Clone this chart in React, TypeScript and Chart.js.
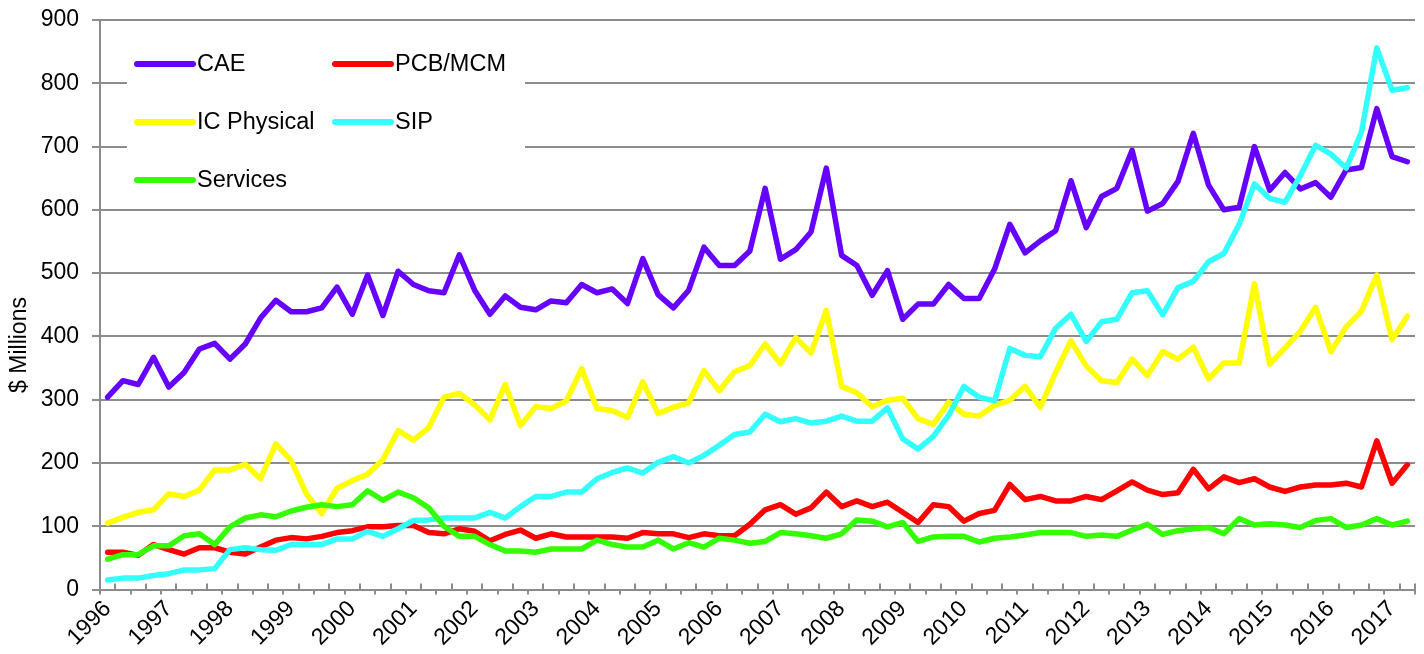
import { useEffect, useRef } from 'react';
import { Chart, registerables } from 'chart.js';

Chart.register(...registerables);

const FONT = "'Liberation Sans', Arial, sans-serif";
const GRID = '#8c8c8c';

const yearLabels = [
  '1996', '1997', '1998', '1999', '2000', '2001', '2002', '2003', '2004', '2005', '2006',
  '2007', '2008', '2009', '2010', '2011', '2012', '2013', '2014', '2015', '2016', '2017',
];
const quarterNames = ['Q1', 'Q2', 'Q3', 'Q4'];
// 1996 Q1 .. 2017 Q2
const categories = yearLabels
  .flatMap((y) => quarterNames.map((q) => `${y} ${q}`))
  .slice(0, 86);

const caeValues = [
  304, 330, 324, 367, 320, 343, 380, 389, 364, 388, 429, 457, 439, 439, 445, 478, 435, 497, 433, 503,
  482, 472, 469, 529, 473, 435, 464, 446, 442, 456, 453, 482, 469, 475, 452, 523, 466, 445, 473, 541,
  512, 512, 535, 634, 522, 537, 565, 666, 528, 512, 465, 504, 427, 451, 451, 482, 460, 460, 506, 577,
  532, 551, 567, 646, 572, 621, 634, 694, 598, 610, 645, 721, 639, 600, 604, 700, 631, 659, 633, 643,
  620, 663, 667, 760, 684, 676,
];
const pcbValues = [
  59, 59, 54, 71, 63, 56, 66, 66, 59, 56, 67, 78, 82, 80, 84, 90, 93, 99, 99, 101,
  101, 90, 88, 96, 92, 77, 87, 94, 81, 88, 83, 83, 83, 83, 81, 90, 88, 88, 82, 88,
  85, 85, 103, 126, 134, 119, 129, 154, 131, 140, 131, 138, 122, 106, 134, 131, 108, 120, 125, 166,
  142, 147, 140, 140, 147, 142, 156, 170, 157, 150, 153, 190, 159, 178, 169, 175, 162, 155, 162, 165,
  165, 168, 162, 235, 168, 197,
];
const icPhysicalValues = [
  105, 114, 122, 126, 151, 147, 157, 189, 189, 198, 175, 230, 204, 151, 120, 160, 172, 182, 205, 251,
  236, 256, 304, 310, 292, 268, 324, 259, 289, 286, 298, 349, 286, 283, 272, 328, 278, 288, 295, 346,
  314, 344, 354, 388, 357, 398, 374, 441, 321, 311, 289, 299, 302, 270, 261, 296, 277, 274, 291, 299,
  321, 288, 343, 393, 353, 330, 327, 364, 338, 376, 364, 383, 333, 358, 358, 483, 356, 382, 408, 446,
  376, 415, 440, 497, 395, 432,
];
const sipValues = [
  15, 18, 18, 22, 25, 31, 31, 33, 63, 66, 63, 62, 71, 71, 71, 80, 80, 92, 84, 96,
  109, 110, 113, 113, 113, 122, 113, 131, 147, 147, 154, 154, 175, 185, 192, 184, 201, 210, 200, 212,
  228, 245, 249, 277, 265, 270, 263, 266, 274, 266, 266, 287, 238, 222, 242, 275, 321, 304, 298, 381,
  370, 368, 413, 435, 392, 423, 427, 469, 472, 434, 477, 487, 518, 531, 577, 641, 618, 612, 654, 702,
  688, 666, 723, 856, 789, 793,
];
const servicesValues = [
  48, 55, 55, 69, 69, 85, 88, 71, 99, 113, 118, 115, 124, 130, 134, 131, 134, 156, 141, 154,
  145, 129, 100, 84, 84, 71, 61, 61, 59, 64, 64, 64, 78, 71, 67, 67, 78, 64, 74, 67,
  81, 78, 73, 76, 90, 88, 85, 81, 88, 110, 108, 99, 106, 76, 83, 84, 84, 75, 81, 83,
  86, 90, 90, 90, 84, 86, 84, 94, 103, 87, 93, 96, 98, 88, 112, 102, 104, 102, 98, 109,
  112, 98, 102, 112, 102, 108,
];

const seriesNames = ['CAE', 'PCB/MCM', 'IC Physical', 'SIP', 'Services'];
const seriesColors = ['#6600ff', '#ff0000', '#ffff00', '#33ffff', '#33ff00'];
const seriesValues = [caeValues, pcbValues, icPhysicalValues, sipValues, servicesValues];

const bgPlugin = {
  id: 'whiteBg',
  beforeDraw(chart: any) {
    const { ctx, width, height } = chart;
    ctx.save();
    ctx.fillStyle = '#ffffff';
    ctx.fillRect(0, 0, width, height);
    ctx.restore();
  },
};

const legendPlugin = {
  id: 'boxLegend',
  beforeDatasetsDraw(chart: any) {
    const { ctx } = chart;
    ctx.save();
    ctx.fillStyle = '#ffffff';
    ctx.fillRect(127, 28, 398, 176);
    const cols = [137, 335];
    const rows = [64, 122, 180];
    seriesNames.forEach((name, i) => {
      const cx = cols[i % 2];
      const cy = rows[Math.floor(i / 2)];
      ctx.strokeStyle = seriesColors[i];
      ctx.lineWidth = 6;
      ctx.lineCap = 'round';
      ctx.beginPath();
      ctx.moveTo(cx, cy);
      ctx.lineTo(cx + 56, cy);
      ctx.stroke();
      ctx.fillStyle = '#000000';
      ctx.font = `23.5px ${FONT}`;
      ctx.textAlign = 'left';
      ctx.textBaseline = 'middle';
      ctx.fillText(name, cx + 60, cy + 1);
    });
    ctx.restore();
  },
};

const xTickPlugin = {
  id: 'xTickMarks',
  afterDraw(chart: any) {
    const { ctx } = chart;
    const xs = chart.scales.x;
    const base = chart.chartArea.bottom;
    const w = xs.getPixelForValue(1) - xs.getPixelForValue(0);
    const start = xs.getPixelForValue(0) - w / 2;
    const n = categories.length;
    ctx.save();
    ctx.strokeStyle = GRID;
    ctx.lineWidth = 2;
    for (let k = 0; k <= n; k++) {
      const x = Math.round(start + k * w);
      ctx.beginPath();
      if (k === n) {
        ctx.moveTo(x, base - 6);
        ctx.lineTo(x, base + 5);
      } else if (k % 2 === 1) {
        ctx.moveTo(x, base);
        ctx.lineTo(x, base - 6);
      } else {
        ctx.moveTo(x, base);
        ctx.lineTo(x, base + 5);
      }
      ctx.stroke();
    }
    ctx.restore();
  },
};

const yTitlePlugin = {
  id: 'yTitle',
  afterDraw(chart: any) {
    const { ctx } = chart;
    ctx.save();
    ctx.translate(26, 345);
    ctx.rotate(-Math.PI / 2);
    ctx.fillStyle = '#000000';
    ctx.font = `23px ${FONT}`;
    ctx.textAlign = 'center';
    ctx.textBaseline = 'alphabetic';
    ctx.fillText('$ Millions', 0, 0);
    ctx.restore();
  },
};

export default function App() {
  const ref = useRef<HTMLCanvasElement>(null);

  useEffect(() => {
    document.body.style.margin = '0';
    const canvas = ref.current;
    if (!canvas) return;
    const order = [5, 4, 3, 2, 1];
    const chart = new Chart(canvas, {
      type: 'line',
      data: {
        labels: categories,
        datasets: seriesNames.map((name, i) => ({
          label: name,
          data: seriesValues[i],
          borderColor: seriesColors[i],
          backgroundColor: seriesColors[i],
          borderWidth: 5.5,
          pointRadius: 0,
          tension: 0,
          fill: false,
          borderJoinStyle: 'round' as const,
          borderCapStyle: 'round' as const,
          order: order[i],
        })),
      },
      options: {
        responsive: false,
        animation: false,
        layout: { padding: { top: 20, right: 9, left: 0, bottom: 0 } },
        plugins: {
          legend: { display: false },
          tooltip: { enabled: false },
          title: { display: false },
        },
        scales: {
          x: {
            type: 'category',
            offset: true,
            grid: { display: false, drawTicks: false },
            border: { display: true, color: GRID, width: 2 },
            ticks: {
              autoSkip: false,
              minRotation: 45,
              maxRotation: 45,
              padding: 6,
              color: '#000000',
              font: { family: FONT, size: 23 },
              callback: (_v: any, i: number) => (i % 4 === 0 ? yearLabels[i / 4] : ''),
            },
            afterFit: (s: any) => {
              s.height = 64.5;
              s.paddingLeft = 0;
              s.paddingRight = 0;
              s.paddingTop = 0;
              s.paddingBottom = 0;
            },
          },
          y: {
            min: 0,
            max: 900,
            ticks: {
              stepSize: 100,
              padding: 13,
              color: '#000000',
              font: { family: FONT, size: 23 },
            },
            grid: { color: GRID, lineWidth: 2, tickLength: 8, drawTicks: true },
            border: { display: true, color: GRID, width: 2 },
            afterFit: (s: any) => {
              s.width = 100;
              s.paddingLeft = 0;
              s.paddingRight = 0;
              s.paddingTop = 0;
              s.paddingBottom = 0;
            },
          },
        },
      },
      plugins: [bgPlugin, legendPlugin, xTickPlugin, yTitlePlugin],
    });
    return () => chart.destroy();
  }, []);

  return (
    <div style={{ width: 1424, height: 654 }}>
      <canvas ref={ref} width={1424} height={654} />
    </div>
  );
}
